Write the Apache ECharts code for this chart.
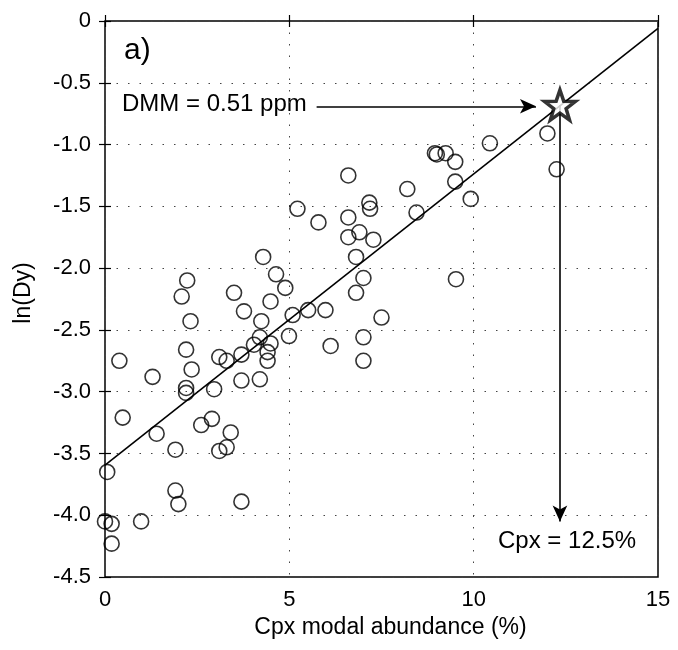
<!DOCTYPE html>
<html>
<head>
<meta charset="utf-8">
<script src="https://cdn.jsdelivr.net/npm/echarts@6/dist/echarts.min.js"></script>
<style>
html,body{margin:0;padding:0;background:#fff;}
#chart{width:678px;height:650px;}
</style>
</head>
<body>
<div id="chart"></div>
<script>
// Sample points: Cpx modal abundance (%) and ln(Dy)
const cpx = [0.06,0.00,0.18,0.98,0.18,1.91,1.99,3.70,0.48,1.40,1.91,2.61,2.90,3.41,3.10,3.30,
  0.39,1.29,2.20,2.35,2.20,2.20,2.96,3.10,3.30,3.70,4.04,4.20,4.49,4.41,4.41,3.70,4.20,
  2.08,3.50,4.89,6.81,4.49,3.77,2.32,4.24,5.09,5.51,5.98,7.50,4.99,7.01,6.12,7.01,
  2.23,4.29,4.64,6.60,7.17,7.19,5.22,5.79,6.60,6.60,6.90,7.28,6.81,7.01,
  8.95,9.00,9.24,9.50,10.44,12.00,12.25,8.20,9.50,8.45,9.92,9.52];
const lnDy = [-3.65,-4.05,-4.07,-4.05,-4.23,-3.80,-3.91,-3.89,-3.21,-3.34,-3.47,-3.27,-3.22,-3.33,-3.48,-3.45,
  -2.75,-2.88,-2.66,-2.82,-2.97,-3.01,-2.98,-2.72,-2.75,-2.70,-2.62,-2.56,-2.61,-2.68,-2.75,-2.91,-2.90,
  -2.23,-2.20,-2.16,-2.20,-2.27,-2.35,-2.43,-2.43,-2.38,-2.34,-2.34,-2.40,-2.55,-2.56,-2.63,-2.75,
  -2.10,-1.91,-2.05,-1.25,-1.47,-1.52,-1.52,-1.63,-1.59,-1.75,-1.71,-1.77,-1.91,-2.08,
  -1.07,-1.08,-1.07,-1.14,-0.99,-0.91,-1.20,-1.36,-1.30,-1.55,-1.44,-2.09];
// Regression line end points
const fitX = [0, 15];
const fitY = [-3.595, -0.06];
// DMM estimate (star)
const dmmCpx = 12.34;
const dmmLnDy = -0.68;
// Arrows
const hArrowX = [5.74, 11.69];
const hArrowY = -0.69;
const vArrowYEnd = -4.05;
// Axis ticks
const xTicks = [0, 5, 10, 15];
const yTicks = [0, -0.5, -1.0, -1.5, -2.0, -2.5, -3.0, -3.5, -4.0, -4.5];

const FONT = '"Liberation Sans", Arial, Helvetica, sans-serif';
const chart = echarts.init(document.getElementById('chart'));

const baseAxis = {
  axisLine: {show: false},
  axisTick: {show: true, inside: true, length: 6, lineStyle: {color: '#000', width: 1.2}},
  splitLine: {show: false}
};

const option = {
  animation: false,
  backgroundColor: '#fff',
  grid: {left: 105, right: 20, top: 21, bottom: 73, show: true, borderColor: '#000', borderWidth: 1.5, backgroundColor: 'transparent'},
  xAxis: [
    Object.assign({}, baseAxis, {
      type: 'value', min: xTicks[0], max: xTicks[xTicks.length-1], interval: 5, position: 'bottom',
      axisLabel: {color: '#000', fontSize: 22, fontFamily: FONT, margin: 12},
      splitLine: {show: true, lineStyle: {color: '#444', type: [1.5, 10], width: 1}},
      name: 'Cpx modal abundance (%)', nameLocation: 'middle', nameGap: 36,
      nameTextStyle: {color: '#000', fontSize: 23, fontFamily: FONT, padding: [0, 0, 0, 18]}
    }),
    Object.assign({}, baseAxis, {
      type: 'value', min: 0, max: 15, interval: 5, position: 'top',
      axisLabel: {show: false}
    })
  ],
  yAxis: [
    Object.assign({}, baseAxis, {
      type: 'value', min: yTicks[yTicks.length-1], max: yTicks[0], interval: 0.5, position: 'left',
      axisLabel: {color: '#000', fontSize: 22, fontFamily: FONT, margin: 14,
        formatter: v => (v === 0 ? '0' : v.toFixed(1))},
      splitLine: {show: true, lineStyle: {color: '#444', type: [1.5, 10], width: 1}},
      name: 'ln(Dy)', nameLocation: 'middle', nameGap: 70,
      nameTextStyle: {color: '#000', fontSize: 23, fontFamily: FONT, padding: [0, 0, 0, 12]}
    }),
    Object.assign({}, baseAxis, {
      type: 'value', min: -4.5, max: 0, interval: 0.5, position: 'right',
      axisLabel: {show: false}
    })
  ],
  series: [
    {
      type: 'line', data: fitX.map((x, i) => [x, fitY[i]]),
      symbol: 'none', lineStyle: {color: '#000', width: 1.6}, z: 3, silent: true
    },
    {
      type: 'scatter', data: cpx.map((x, i) => [x, lnDy[i]]),
      symbol: 'circle', symbolSize: 15,
      itemStyle: {color: 'rgba(255,255,255,0)', borderColor: '#000', borderWidth: 1.6},
      z: 4
    },
    {
      type: 'line', data: [], symbol: 'none', z: 5,
      markLine: {
        silent: true, animation: false,
        symbol: ['none', 'arrow'], symbolSize: [11, 16],
        label: {show: false},
        lineStyle: {color: '#000', width: 1.6, type: 'solid'},
        data: [
          [{coord: [hArrowX[0], hArrowY]}, {coord: [hArrowX[1], hArrowY]}],
          [{coord: [dmmCpx, dmmLnDy]}, {coord: [dmmCpx, vArrowYEnd]}]
        ]
      }
    },
    {
      type: 'scatter', data: [[dmmCpx, dmmLnDy]], z: 10,
      symbol: 'path://M0,-10L2.35,-3.24L9.51,-3.09L3.8,1.24L5.88,8.09L0,4L-5.88,8.09L-3.8,1.24L-9.51,-3.09L-2.35,-3.24Z',
      symbolSize: [31, 30],
      itemStyle: {color: '#fff', borderColor: '#000', borderWidth: 3.5}
    }
  ],
  graphic: [
    {type: 'text', left: 124, top: 36, style: {text: 'a)', fontSize: 30, fontFamily: FONT, fill: '#000'}},
    {type: 'text', left: 122, top: 92, style: {text: 'DMM = 0.51 ppm', fontSize: 24, fontFamily: FONT, fill: '#000'}},
    {type: 'text', left: 498, top: 529, style: {text: 'Cpx = 12.5%', fontSize: 24, fontFamily: FONT, fill: '#000'}}
  ]
};
chart.setOption(option);
</script>
</body>
</html>
